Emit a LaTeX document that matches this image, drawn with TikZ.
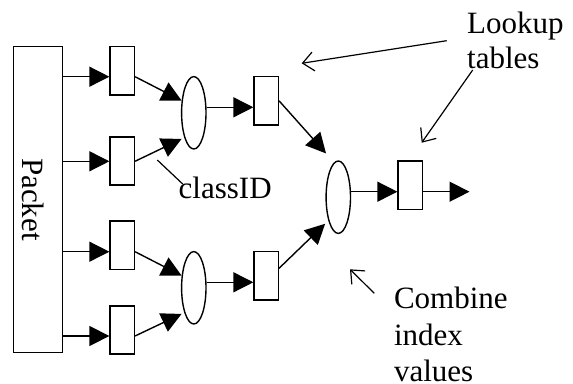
\documentclass[tikz,border=0pt]{standalone}
\usepackage{fontspec}
\setmainfont{Liberation Serif}
\usetikzlibrary{arrows.meta,shapes.geometric}
\begin{document}
\begin{tikzpicture}[x=1pt,y=-1pt,
  line width=1.4pt,
  tbl/.style={draw,rectangle,minimum width=24.3pt,minimum height=48.3pt,inner sep=0pt},
  comb/.style={draw,ellipse,minimum width=24.4pt,minimum height=72.4pt,inner sep=0pt},
  arr/.style={-{Triangle[length=20pt,width=20pt]}},
  note/.style={-{Straight Barb[length=11pt,width=19pt]},line width=1.2pt},
  lbl/.style={inner sep=0pt,anchor=base west,font=\fontsize{31}{34}\selectfont}]
\useasboundingbox (0,0) rectangle (573,383);

% packet header
\node[draw,rectangle,minimum width=48.6pt,minimum height=305.6pt,inner sep=0pt] (pkt) at (38,199.5) {};
\node[inner sep=0pt,rotate=-90,font=\fontsize{31}{34}\selectfont] (pktl) at ([xshift=-4.5pt]pkt.center) {Packet};

% first stage lookup tables
\node[tbl] (b1) at (122.2,70.8) {};
\node[tbl] (b2) at (122.2,161) {};
\node[tbl] (b3) at (122.2,245.2) {};
\node[tbl] (b4) at (122.2,330) {};

% combining stages
\node[comb] (e1) at (193.8,112.8) {};
\node[comb] (e2) at (193.8,287.8) {};
\node[tbl] (c1) at (266.2,100.8) {};
\node[tbl] (c2) at (266.2,275.8) {};
\node[comb] (e3) at (338.3,197.2) {};
\node[tbl] (d) at (410.2,185.2) {};
\coordinate (out) at (469.5,191.7);

% field extraction arrows
\coordinate (p1) at ([yshift=-5.9pt]b1.west);
\coordinate (p2) at ([yshift=-0.3pt]b2.west);
\coordinate (p3) at ([yshift=-6.5pt]b3.west);
\coordinate (p4) at ([yshift=-6pt]b4.west);
\draw[arr] (pkt.east |- p1) -- (p1);
\draw[arr] (pkt.east |- p2) -- (p2);
\draw[arr] (pkt.east |- p3) -- (p3);
\draw[arr] (pkt.east |- p4) -- (p4);

% table outputs into combiners
\draw[arr] ([yshift=-5.9pt]b1.east) -- (e1.135);
\draw[arr,shorten >=3pt] ([yshift=-0.3pt]b2.east) -- (e1.249);
\draw[arr] ([yshift=-6.5pt]b3.east) -- (e2.135);
\draw[arr,shorten >=3pt] ([yshift=-6pt]b4.east) -- (e2.249);

\coordinate (q1) at ([yshift=-6.5pt]c1.west);
\coordinate (q2) at ([yshift=-6.5pt]c2.west);
\draw[arr] (e1.east |- q1) -- (q1);
\draw[arr] (e2.east |- q2) -- (q2);

\draw[arr,shorten >=12pt] (c1.east) -- (e3.97);
\draw[arr,shorten >=4.5pt] ([yshift=7.5pt]c2.east) -- (e3.247);

\coordinate (r1) at ([yshift=-6.5pt]d.west);
\draw[arr] (e3.east |- r1) -- (r1);
\draw[arr] ([yshift=-6.5pt]d.east) -- (out);

% annotations
\node[lbl] (lk) at (466.5,33.3) {Lookup};
\node[lbl] (tb) at (466.5,68.3) {tables};
\node[lbl] (cl) at (178,198.5) {classID};
\node[lbl] (cm) at (393.3,308.3) {Combine};
\node[lbl] (ix) at (393.3,345) {index};
\node[lbl] (vl) at (393.3,381.7) {values};

\coordinate (lka) at (446.7,40.7);
\coordinate (lkat) at (301.7,63.3);
\coordinate (lkb) at (472.7,70);
\coordinate (lkbt) at (421.7,142.7);
\coordinate (cba) at (374.3,293.3);
\coordinate (cbat) at (350,269.3);
\coordinate (cla) at (182.7,184);
\coordinate (clat) at (157.3,160);
\draw[note] (lka) -- (lkat);
\draw[note] (lkb) -- (lkbt);
\draw[note] (cba) -- (cbat);
\draw[line width=1.2pt] (cla) -- (clat);
\end{tikzpicture}
\end{document}
